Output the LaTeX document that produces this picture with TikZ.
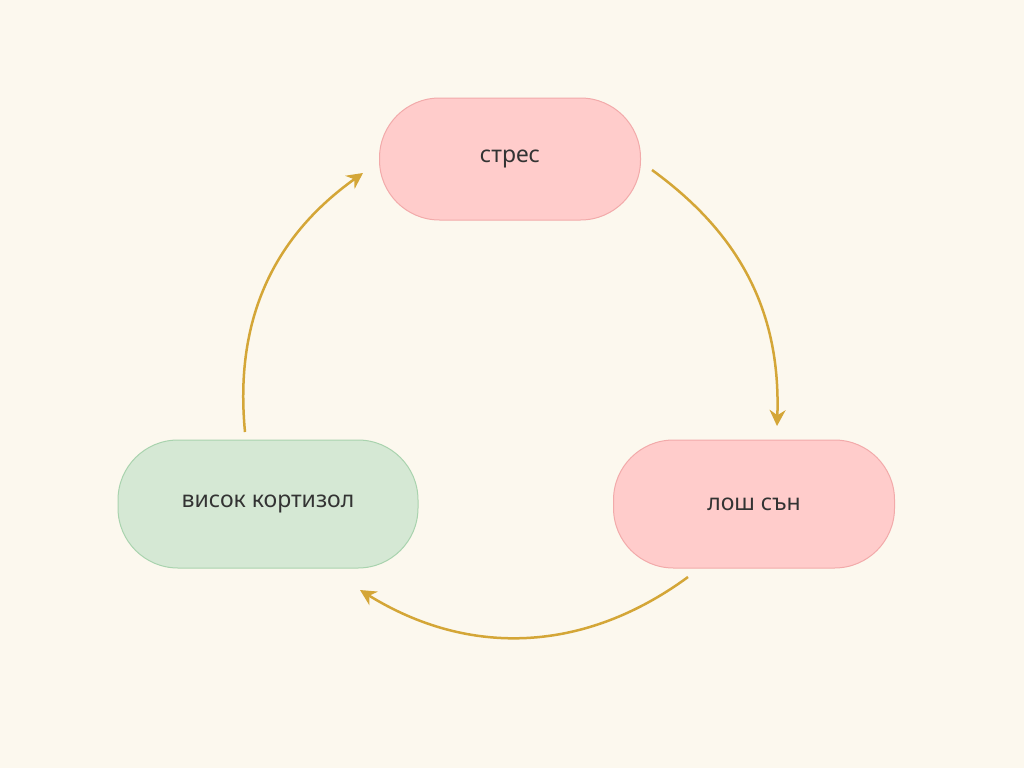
\documentclass[tikz,border=0pt]{standalone}
\usepackage{fontspec}
\setmainfont{Noto Sans}
\usetikzlibrary{positioning,arrows.meta}
\definecolor{bg}{HTML}{FCF8EE}
\definecolor{pinkfill}{HTML}{FFCCCB}
\definecolor{pinkline}{HTML}{F2AAAA}
\definecolor{greenfill}{HTML}{D5E8D4}
\definecolor{greenline}{HTML}{A9D3AE}
\definecolor{arrowcol}{HTML}{D4A637}
\tikzset{
  state/.style={rounded corners=60pt, draw=pinkline, fill=pinkfill, line width=1pt,
    font=\fontsize{23pt}{26pt}\selectfont, text=black!80, align=center},
  cycle/.style={draw=arrowcol, line width=2.5pt, -{Stealth[length=16pt,width=16pt]}}
}
\begin{document}
\begin{tikzpicture}[x=1pt,y=-1pt]
  \fill[bg] (0,0) rectangle (1024,768);
  \useasboundingbox (0,0) rectangle (1024,768);

  % states
  \node[state, minimum width=261pt, minimum height=122pt] (stres) at (510,159) {стрес};
  \node[state, minimum width=281pt, minimum height=128pt] (losh) at (754,504) {лош сън};
  \node[state, draw=greenline, fill=greenfill, minimum width=300pt, minimum height=128pt] (kort) at (268,504) {висок кортизол};

  % arrow ends
  \coordinate (a1) at (652,170);
  \coordinate (a2) at (777,426);
  \coordinate (b1) at (688,577);
  \coordinate (b2) at (360,590);
  \coordinate (c1) at (245,432);
  \coordinate (c2) at (363,173);

  \draw[cycle] (a1) to[bend left=28] (a2);
  \draw[cycle] (b1) to[bend left=34] (b2);
  \draw[cycle] (c1) to[bend left=30] (c2);
\end{tikzpicture}
\end{document}
